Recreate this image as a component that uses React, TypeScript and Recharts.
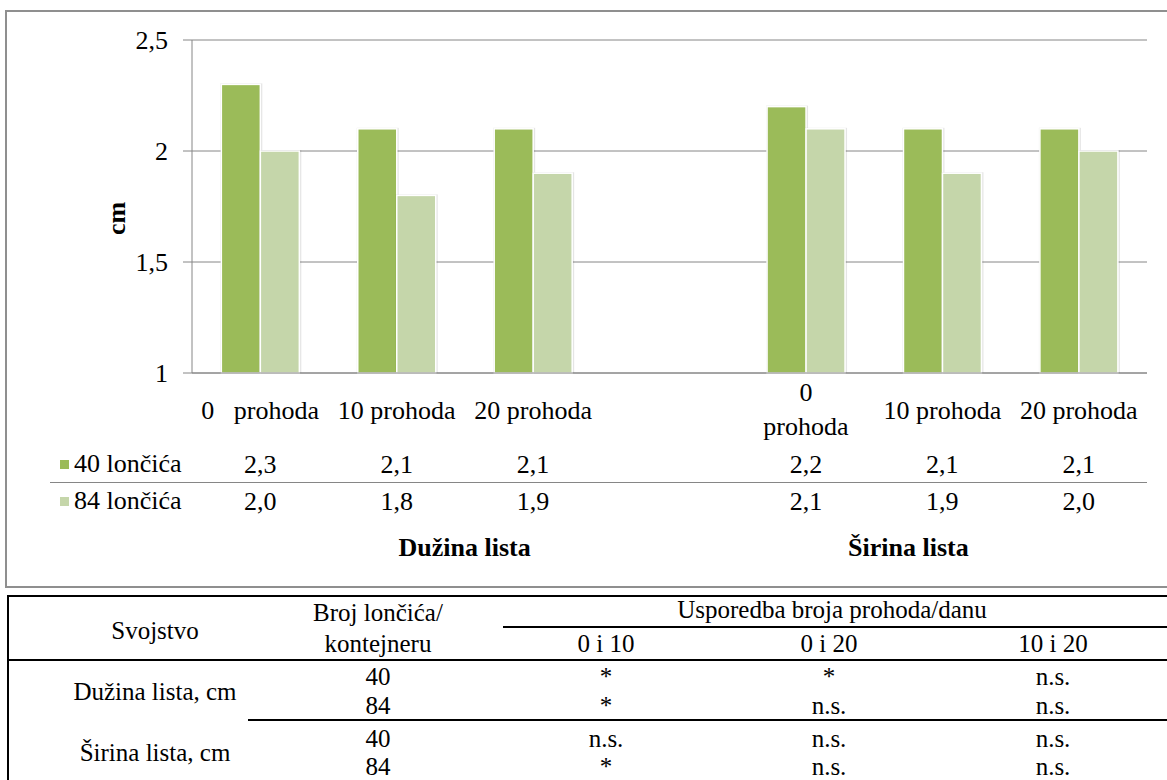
import React from 'react';
import { BarChart, Bar, XAxis, YAxis, CartesianGrid, Legend } from 'recharts';

// ---------- data ----------
const categories = ['0 prohoda (D)', '10 prohoda (D)', '20 prohoda (D)', '', '0 prohoda (Š)', '10 prohoda (Š)', '20 prohoda (Š)'];
const categoryLabels: string[][] = [
  ['0\u00a0\u00a0\u00a0prohoda'],
  ['10 prohoda'],
  ['20 prohoda'],
  [],
  ['0', 'prohoda'],
  ['10 prohoda'],
  ['20 prohoda'],
];
const series40: (number | null)[] = [2.3, 2.1, 2.1, null, 2.2, 2.1, 2.1];
const series84: (number | null)[] = [2.0, 1.8, 1.9, null, 2.1, 1.9, 2.0];
const seriesNames = ['40 lončića', '84 lončića'];
const groupLabels = ['Dužina lista', 'Širina lista'];
const groupAnchorIndex = [1, 5];
const yTicks = [1, 1.5, 2, 2.5];
const yLabel = 'cm';

// significance table
const tableProperties = ['Dužina lista, cm', 'Širina lista, cm'];
const potCounts = ['40', '84'];
const comparisonLabels = ['0 i 10', '0 i 20', '10 i 20'];
const sig0vs10 = ['*', '*', 'n.s.', '*'];
const sig0vs20 = ['*', 'n.s.', 'n.s.', 'n.s.'];
const sig10vs20 = ['n.s.', 'n.s.', 'n.s.', 'n.s.'];

// ---------- styling ----------
const FONT = "'Liberation Serif', 'Times New Roman', serif";
const CHART_FS = 26;
const TABLE_FS = 25;
const GREEN = '#9BBB59';
const LIGHT = '#C5D6AA';
const GRID = '#868686';
const GROUP_LABEL_SHIFT = [68, -34];

const chartData = categories.map((c, i) => ({ cat: c, s40: series40[i], s84: series84[i] }));
const fmt = (v: number | null) => (v == null ? '' : v.toFixed(1).replace('.', ','));

const STxt = ({ x, y, children, anchor = 'middle', bold = false, fs = CHART_FS }: any) => (
  <text
    x={x}
    y={y}
    textAnchor={anchor}
    style={{ fontFamily: FONT, fontSize: fs, fontWeight: bold ? 'bold' : 'normal' }}
    fill="#000"
  >
    {children}
  </text>
);

const XTick = (props: any) => {
  const { x, y, payload } = props;
  const i = payload.index;
  const lines = categoryLabels[i] || [];
  const out: any[] = [];
  if (lines.length === 1) out.push(<STxt key="l" x={x} y={y + 46}>{lines[0]}</STxt>);
  if (lines.length === 2) {
    out.push(<STxt key="l0" x={x} y={y + 28}>{lines[0]}</STxt>);
    out.push(<STxt key="l1" x={x} y={y + 62}>{lines[1]}</STxt>);
  }
  out.push(<STxt key="v1" x={x} y={y + 100}>{fmt(series40[i])}</STxt>);
  out.push(<STxt key="v2" x={x} y={y + 137}>{fmt(series84[i])}</STxt>);
  const g = groupAnchorIndex.indexOf(i);
  if (g >= 0) out.push(<STxt key="g" x={x + GROUP_LABEL_SHIFT[g]} y={y + 183} bold>{groupLabels[g]}</STxt>);
  return <g>{out}</g>;
};

const YTick = (props: any) => {
  const { x, y, payload } = props;
  return <STxt x={x} y={y + 9} anchor="end">{String(payload.value).replace('.', ',')}</STxt>;
};

const YLabel = (props: any) => {
  const vb = props.viewBox || {};
  const cx = vb.x + 13;
  const cy = vb.y + vb.height / 2 + 12;
  return (
    <text
      transform={`translate(${cx},${cy}) rotate(-90)`}
      textAnchor="middle"
      style={{ fontFamily: FONT, fontSize: CHART_FS, fontWeight: 'bold' }}
      fill="#000"
    >
      {yLabel}
    </text>
  );
};

const ShadowBar = (props: any) => {
  const { x, y, width, height, fill } = props;
  if (x == null || !height || height <= 0) return null;
  return (
    <g>
      <rect x={x - 1} y={y - 1} width={width + 3} height={height + 1} fill="#000" opacity={0.1} />
      <rect x={x} y={y} width={width} height={height} fill={fill} stroke="#fff" strokeWidth={1.5} />
    </g>
  );
};

const LegendContent = (props: any) => {
  const payload = props.payload || [];
  const rowCenters = [24, 61];
  return (
    <div style={{ position: 'relative', width: 1102, height: 80 }}>
      {payload.map((p: any, k: number) => (
        <div key={k}>
          <div
            style={{
              position: 'absolute',
              left: 15,
              top: rowCenters[k] - 4,
              width: 9,
              height: 9,
              background: p.color,
            }}
          />
          <div
            style={{
              position: 'absolute',
              left: 29,
              top: rowCenters[k] - CHART_FS / 2,
              lineHeight: `${CHART_FS}px`,
              fontFamily: FONT,
              fontSize: CHART_FS,
              whiteSpace: 'nowrap',
              color: '#000',
            }}
          >
            {p.value}
          </div>
        </div>
      ))}
      <div style={{ position: 'absolute', left: 5, top: 42, width: 1097, height: 1, background: GRID }} />
    </div>
  );
};

const TCell = ({ cx, cy, children }: any) => (
  <div
    style={{
      position: 'absolute',
      left: cx,
      top: cy,
      transform: 'translate(-50%, -50%)',
      fontFamily: FONT,
      fontSize: TABLE_FS,
      lineHeight: `${TABLE_FS}px`,
      whiteSpace: 'nowrap',
      color: '#000',
    }}
  >
    {children}
  </div>
);

const HLine = ({ left, top, width, h = 2 }: any) => (
  <div style={{ position: 'absolute', left, top, width, height: h, background: '#000' }} />
);

export default function App() {
  const rowCenters = [676, 705, 738, 766];
  const colCenters = [606, 829, 1053];
  const sigCols = [sig0vs10, sig0vs20, sig10vs20];
  return (
    <div style={{ position: 'absolute', left: 0, top: 0, width: 1167, height: 780, overflow: 'hidden', background: '#fff', fontFamily: FONT }}>
      <div
        style={{
          position: 'absolute',
          left: 5,
          top: 10,
          width: 1175,
          height: 578,
          boxSizing: 'border-box',
          border: '2px solid #8f8f8f',
        }}
      />
      <div style={{ position: 'absolute', left: 0, top: 0 }}>
        <BarChart
          width={1167}
          height={590}
          data={chartData}
          margin={{ top: 40, right: 20, left: 112, bottom: 0 }}
          barCategoryGap="21.5%"
          barGap={0}
        >
          <CartesianGrid vertical={false} stroke={GRID} />
          <XAxis
            dataKey="cat"
            interval={0}
            tickLine={false}
            tickSize={0}
            tickMargin={0}
            height={217}
            axisLine={{ stroke: GRID }}
            tick={<XTick />}
          />
          <YAxis
            domain={[1, 2.5]}
            ticks={yTicks}
            width={80}
            tickSize={9}
            tickMargin={15}
            axisLine={{ stroke: GRID }}
            tickLine={{ stroke: GRID }}
            tick={<YTick />}
            label={<YLabel />}
          />
          <Legend
            layout="horizontal"
            verticalAlign="middle"
            align="center"
            wrapperStyle={{ position: 'absolute', left: 45, top: 440, width: 1102, height: 80 }}
            content={<LegendContent />}
          />
          <Bar dataKey="s40" name={seriesNames[0]} fill={GREEN} isAnimationActive={false} shape={<ShadowBar />} />
          <Bar dataKey="s84" name={seriesNames[1]} fill={LIGHT} isAnimationActive={false} shape={<ShadowBar />} />
        </BarChart>
      </div>

      {/* significance table */}
      <HLine left={7} top={595} width={1160} />
      <div style={{ position: 'absolute', left: 7, top: 595, width: 2, height: 185, background: '#000' }} />
      <HLine left={503} top={626} width={664} />
      <HLine left={7} top={659} width={1160} />
      <HLine left={248} top={719} width={919} />
      <TCell cx={155} cy={630}>Svojstvo</TCell>
      <TCell cx={378} cy={612}>Broj lončića/</TCell>
      <TCell cx={378} cy={643}>kontejneru</TCell>
      <TCell cx={832} cy={609}>Usporedba broja prohoda/danu</TCell>
      {comparisonLabels.map((c, k) => (
        <TCell key={c} cx={colCenters[k]} cy={643}>{c}</TCell>
      ))}
      {tableProperties.map((p, k) => (
        <TCell key={p} cx={155} cy={(rowCenters[k * 2] + rowCenters[k * 2 + 1]) / 2}>{p}</TCell>
      ))}
      {rowCenters.map((cy, r) => (
        <React.Fragment key={r}>
          <TCell cx={378} cy={cy}>{potCounts[r % 2]}</TCell>
          {sigCols.map((col, k) => (
            <TCell key={k} cx={colCenters[k]} cy={cy}>{col[r]}</TCell>
          ))}
        </React.Fragment>
      ))}
    </div>
  );
}
